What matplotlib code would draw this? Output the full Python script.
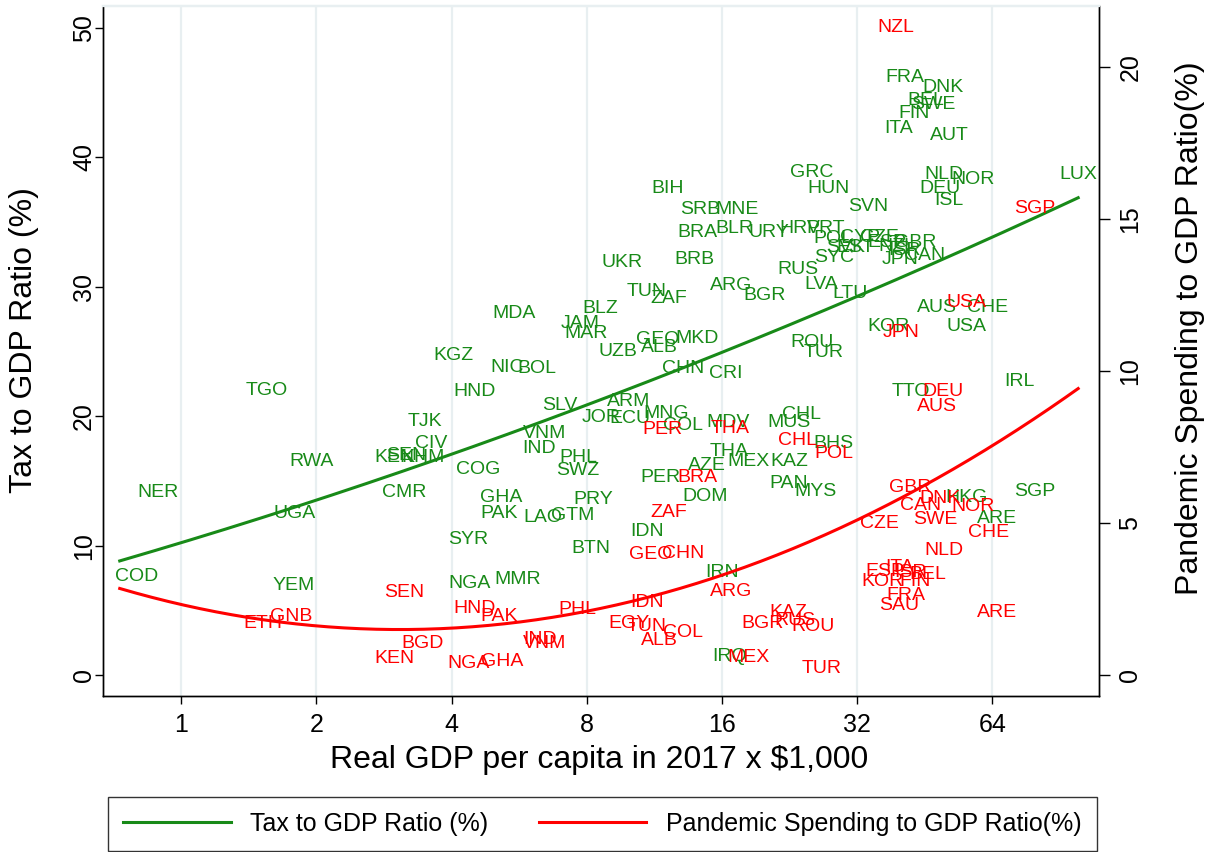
import numpy as np
import matplotlib
matplotlib.use("Agg")
import matplotlib.pyplot as plt
from matplotlib.lines import Line2D

plt.rcParams['font.family'] = ['Liberation Sans', 'DejaVu Sans']

# ---------------- data ----------------
tax_codes = ['TGO', 'RWA', 'KGZ', 'TJK', 'CIV', 'KEN', 'SEN', 'KHM', 'NER', 'UGA',
             'CMR', 'COD', 'YEM', 'UKR', 'BRB', 'TUN', 'ZAF', 'ARG', 'BGR', 'MDA',
             'BLZ', 'JAM', 'MAR', 'GEO', 'MKD', 'UZB', 'ALB', 'NIC', 'BOL', 'CHN',
             'CRI', 'HND', 'SLV', 'ARM', 'JOR', 'ECU', 'MNG', 'COL', 'MDV', 'VNM',
             'IND', 'PHL', 'SWZ', 'COG', 'THA', 'MEX', 'AZE', 'PER', 'GHA', 'PAK',
             'PRY', 'LAO', 'GTM', 'DOM', 'IDN', 'SYR', 'BTN', 'NGA', 'MMR', 'IRN',
             'IRQ', 'BIH', 'GRC', 'HUN', 'SRB', 'MNE', 'SVN', 'BRA', 'BLR', 'URY',
             'HRV', 'PRT', 'POL', 'CYP', 'ESP', 'SVK', 'EST', 'SYC', 'NZL', 'GBR',
             'ISR', 'JPN', 'CAN', 'RUS', 'LVA', 'LTU', 'ROU', 'TUR', 'KOR', 'AUS',
             'CHE', 'USA', 'FRA', 'DNK', 'BEL', 'SWE', 'FIN', 'ITA', 'AUT', 'NLD',
             'NOR', 'DEU', 'ISL', 'LUX', 'TTO', 'IRL', 'CHL', 'MUS', 'BHS', 'KAZ',
             'PAN', 'MYS', 'SGP', 'HKG', 'ARE', 'CZE']
tax_gdp = [1.55, 1.95, 4.05, 3.49, 3.60, 2.99, 3.17, 3.46, 0.889, 1.79,
           3.14, 0.798, 1.78, 9.59, 13.9, 10.9, 12.2, 16.8, 19.9, 5.51,
           8.57, 7.73, 7.98, 11.5, 14.1, 9.40, 11.6, 5.32, 6.20, 13.1,
           16.3, 4.51, 6.98, 9.94, 8.61, 10.0, 12.0, 13.1, 16.5, 6.46,
           6.27, 7.65, 7.65, 4.58, 16.6, 18.3, 14.8, 11.7, 5.16, 5.11,
           8.27, 6.40, 7.46, 14.7, 10.9, 4.36, 8.18, 4.38, 5.63, 16.0,
           16.6, 12.1, 25.4, 27.6, 14.3, 17.3, 33.9, 14.1, 17.1, 20.4,
           23.9, 27.2, 28.3, 32.5, 37.3, 30.1, 31.7, 28.4, 39.3, 43.2,
           40.9, 39.9, 45.3, 23.6, 26.6, 30.9, 25.4, 26.9, 37.5, 48.2,
           62.6, 56.2, 40.9, 49.7, 45.5, 47.2, 42.9, 39.5, 51.3, 50.0,
           58.0, 49.0, 51.3, 99.4, 42.2, 73.4, 24.1, 22.6, 28.4, 22.6,
           22.5, 25.9, 79.7, 56.2, 65.6, 35.8]
tax_ratio = [22.0, 16.5, 24.7, 19.6, 17.9, 16.8, 17.0, 16.8, 14.1, 12.5,
             14.1, 7.6, 6.9, 31.9, 32.1, 29.6, 29.1, 30.1, 29.3, 27.9,
             28.3, 27.2, 26.4, 25.9, 26.0, 25.0, 25.3, 23.8, 23.7, 23.7,
             23.3, 21.9, 20.8, 21.1, 19.9, 19.8, 20.2, 19.3, 19.5, 18.7,
             17.5, 16.8, 15.8, 15.9, 17.3, 16.5, 16.2, 15.3, 13.7, 12.5,
             13.6, 12.2, 12.3, 13.8, 11.1, 10.5, 9.8, 7.1, 7.4, 7.9,
             1.4, 37.6, 38.8, 37.6, 36.0, 36.0, 36.2, 34.2, 34.5, 34.2,
             34.5, 34.5, 33.7, 33.8, 33.4, 33.0, 33.0, 32.3, 33.1, 33.4,
             32.8, 32.1, 32.4, 31.3, 30.2, 29.5, 25.7, 24.9, 26.9, 28.4,
             28.4, 26.9, 46.2, 45.4, 44.4, 44.1, 43.4, 42.2, 41.7, 38.7,
             38.3, 37.6, 36.7, 38.7, 21.9, 22.7, 20.1, 19.5, 17.9, 16.5,
             14.8, 14.2, 14.2, 13.7, 12.1, 33.8]

spend_codes = ['NZL', 'SGP', 'USA', 'JPN', 'DEU', 'AUS', 'PER', 'THA', 'CHL', 'POL',
               'BRA', 'ZAF', 'GEO', 'CHN', 'GBR', 'DNK', 'CAN', 'NOR', 'SWE', 'CZE',
               'CHE', 'NLD', 'ITA', 'ESP', 'ISR', 'BEL', 'KOR', 'FIN', 'FRA', 'SAU',
               'ARE', 'SEN', 'GNB', 'ETH', 'BGD', 'KEN', 'ARG', 'IDN', 'HND', 'PAK',
               'PHL', 'EGY', 'TUN', 'COL', 'ALB', 'IND', 'VNM', 'NGA', 'GHA', 'MEX',
               'BGR', 'KAZ', 'RUS', 'ROU', 'TUR']
spend_gdp = [39.1, 79.7, 56.2, 40.1, 49.7, 48.2, 11.8, 16.7, 23.6, 28.4,
             14.1, 12.2, 11.1, 13.1, 42.0, 49.0, 44.4, 58.0, 47.7, 35.8,
             62.9, 50.0, 39.7, 36.9, 42.0, 46.1, 36.4, 43.1, 41.1, 39.7,
             65.6, 3.14, 1.76, 1.52, 3.44, 2.98, 16.8, 10.9, 4.51, 5.11,
             7.62, 9.94, 10.9, 13.1, 11.6, 6.30, 6.46, 4.36, 5.18, 18.3,
             19.7, 22.5, 23.3, 25.5, 26.7]
spend_ratio = [21.28, 15.33, 12.24, 11.25, 9.31, 8.82, 8.09, 8.12, 7.70, 7.30,
               6.48, 5.33, 3.95, 4.01, 6.15, 5.82, 5.59, 5.53, 5.10, 4.97,
               4.70, 4.08, 3.52, 3.39, 3.36, 3.32, 3.06, 3.06, 2.63, 2.27,
               2.07, 2.70, 1.94, 1.71, 1.02, 0.53, 2.76, 2.37, 2.20, 1.91,
               2.17, 1.71, 1.58, 1.41, 1.15, 1.18, 1.02, 0.39, 0.43, 0.59,
               1.68, 2.07, 1.78, 1.58, 0.23]

fit_gdp_range = [0.73, 99.4]
x_ticks = [1, 2, 4, 8, 16, 32, 64]
left_ticks = [0, 10, 20, 30, 40, 50]
right_ticks = [0, 5, 10, 15, 20]

x_title = 'Real GDP per capita in 2017 x $1,000'
left_title = 'Tax to GDP Ratio (%)'
right_title = 'Pandemic Spending to GDP Ratio(%)'
legend_labels = ['Tax to GDP Ratio (%)', 'Pandemic Spending to GDP Ratio(%)']

GREEN = '#188a18'
RED = '#ff0000'
GRID = '#e8eff1'

# ---------------- figure ----------------
fig = plt.figure(figsize=(12.18, 8.52), dpi=100)
W, H = 1218, 852
L, R, T, B = 103, 1099, 6, 696
ax = fig.add_axes([L / W, 1 - B / H, (R - L) / W, (B - T) / H])
ax2 = ax.twinx()

ax.set_xscale('log', base=2)
ax.set_xlim(0.670, 110.6)
ax.set_ylim(-1.62, 51.7)
ax2.set_ylim(-0.69, 22.0)

ax.set_xticks(x_ticks)
ax.set_xticklabels([str(t) for t in x_ticks])
ax.xaxis.set_minor_locator(matplotlib.ticker.NullLocator())
ax.set_yticks(left_ticks)
ax2.set_yticks(right_ticks)

ax.grid(axis='x', color=GRID, lw=1.6, zorder=0)
ax.set_axisbelow(True)

for a in (ax, ax2):
    a.spines['top'].set_color(GRID)
    a.spines['top'].set_linewidth(1.6)
    for s in ('left', 'right', 'bottom'):
        a.spines[s].set_linewidth(1.0)
        a.spines[s].set_color('black')

ax.tick_params(axis='x', length=6, width=1, pad=6, labelsize=18)
ax.tick_params(axis='y', length=6, width=1, pad=-1, labelsize=18, labelrotation=90)
ax2.tick_params(axis='y', length=8, width=1, pad=6, labelsize=18, labelrotation=90)
for lab in ax.get_yticklabels():
    lab.set_va('center')
for lab in ax2.get_yticklabels():
    lab.set_va('center')

# labels
for c, g, v in zip(tax_codes, tax_gdp, tax_ratio):
    ax.text(g, v, c, color=GREEN, fontsize=14, ha='center', va='center', zorder=3)
for c, g, v in zip(spend_codes, spend_gdp, spend_ratio):
    ax2.text(g, v, c, color=RED, fontsize=14, ha='center', va='center', zorder=3)

# quadratic fits in log GDP
def qfit(x, y):
    lx = np.log(np.asarray(x))
    coef = np.polyfit(lx, np.asarray(y), 2)
    xs = np.exp(np.linspace(np.log(fit_gdp_range[0]), np.log(fit_gdp_range[1]), 300))
    return xs, np.polyval(coef, np.log(xs))

xs, ys = qfit(tax_gdp, tax_ratio)
ax.plot(xs, ys, color=GREEN, lw=2.2, zorder=4)
xs2, ys2 = qfit(spend_gdp, spend_ratio)
ax2.plot(xs2, ys2, color=RED, lw=2.2, zorder=4)

# titles
fig.text(599 / W, 1 - 760 / H, x_title, fontsize=23, ha='center', va='center')
fig.text(24 / W, 1 - 340 / H, left_title, fontsize=23, ha='center', va='center', rotation=90)
fig.text(1190 / W, 1 - 328 / H, right_title, fontsize=23, ha='center', va='center', rotation=90)

# legend
handles = [Line2D([], [], color=GREEN, lw=2.2), Line2D([], [], color=RED, lw=2.2)]
leg = fig.legend(handles, legend_labels, loc='lower left',
                 bbox_to_anchor=(108 / W, 1 - 851 / H, (1097 - 108) / W, 61 / H),
                 mode='expand', ncol=2, fontsize=18, frameon=True, fancybox=False,
                 edgecolor='black', handlelength=4.3, handletextpad=0.8,
                 borderaxespad=0, borderpad=0.6)
leg.get_frame().set_linewidth(1.0)

fig.savefig('out.png', dpi=100)
